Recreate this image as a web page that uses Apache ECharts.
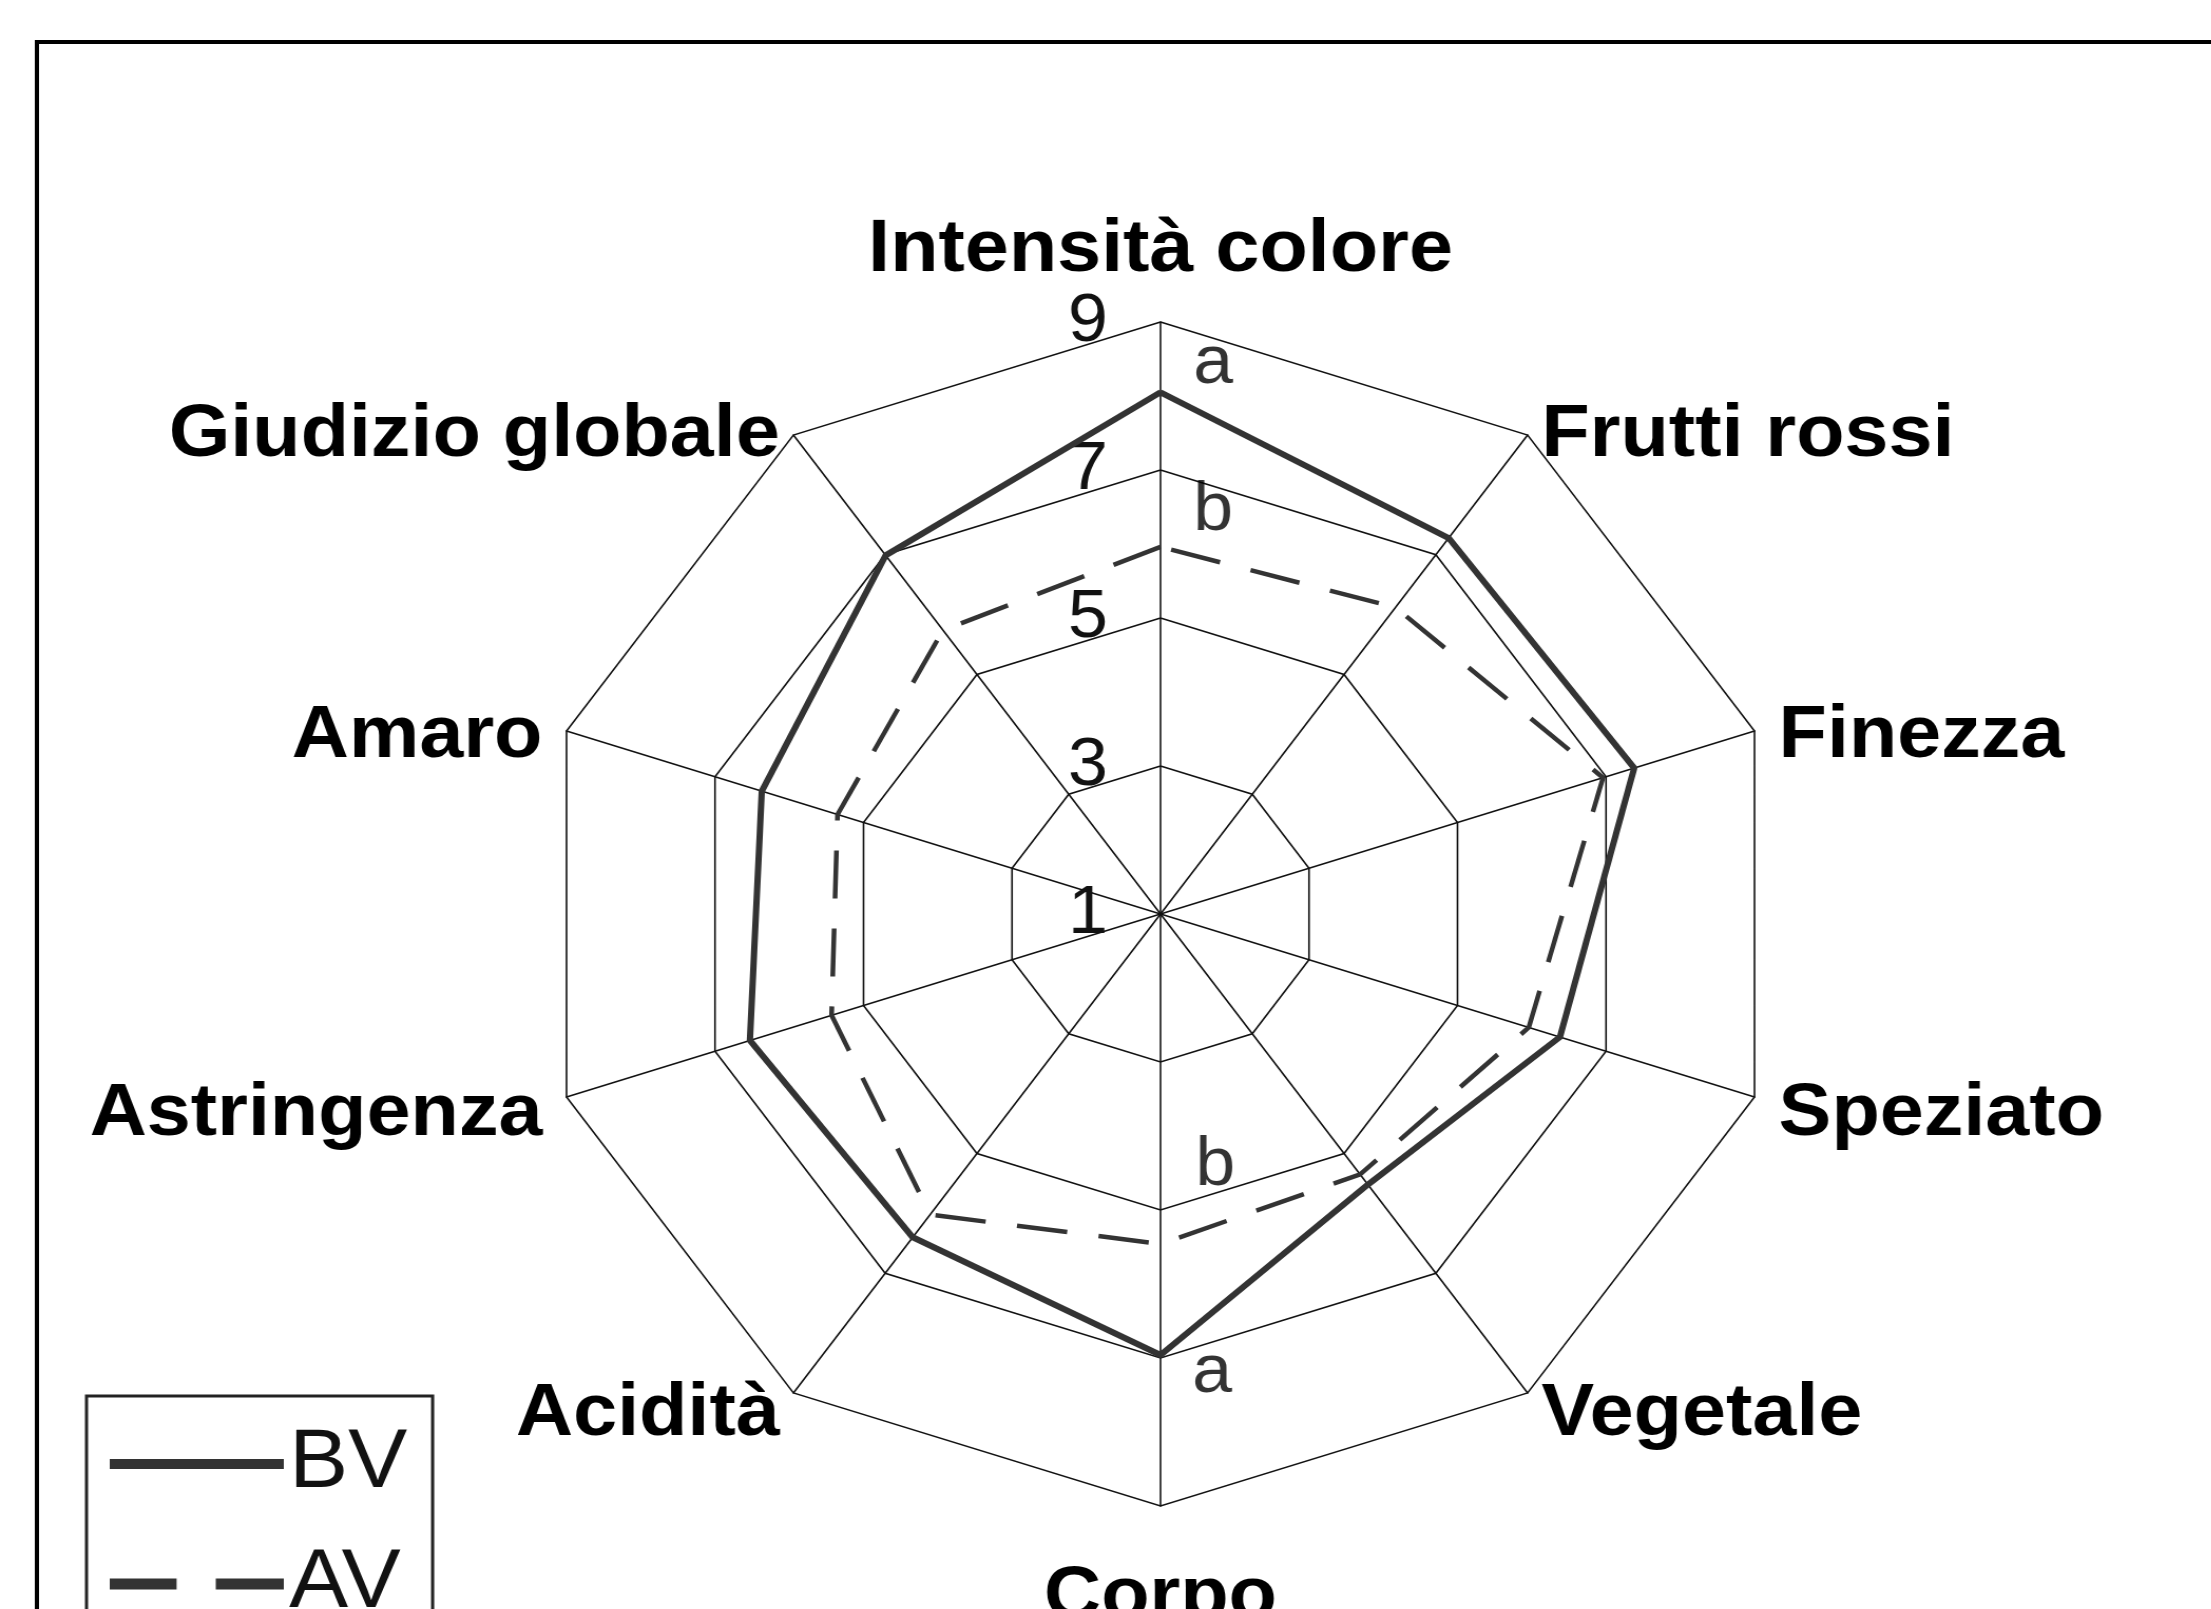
<!DOCTYPE html>
<html>
<head>
<meta charset="utf-8">
<title>Profilo sensoriale BV / AV</title>
<script src="https://cdn.jsdelivr.net/npm/echarts@6/dist/echarts.min.js"></script>
<style>
html, body { margin: 0; padding: 0; background: #fff; overflow: hidden; }
/* the original figure is stretched a little wider than tall */
#radar_chart { width: 2096px; height: 1609px; transform: scaleX(1.055); transform-origin: 0 0; }
</style>
</head>
<body>
<div id="radar_chart"></div>
<script>
// descriptors, clockwise from the top
var categories = ['Intensità colore', 'Frutti rossi', 'Finezza', 'Speziato', 'Vegetale',
                  'Corpo', 'Acidità', 'Astringenza', 'Amaro', 'Giudizio globale'];
var bvValues = [8.05, 7.28, 7.38, 6.38, 5.52, 6.96, 6.4, 6.53, 6.37, 6.99];
var avValues = [5.96, 6.12, 6.96, 5.96, 5.35, 5.46, 6.02, 5.43, 5.35, 5.74];
// significance letters (empty = none)
var bvLetters = ['a', '', '', '', '', 'a', '', '', '', ''];
var avLetters = ['b', '', '', '', '', 'b', '', '', '', ''];
var seriesNames = ['BV', 'AV'];
var scaleMin = 1;
var scaleMax = 9;

var FONT = 'Liberation Sans, Arial, Helvetica, sans-serif';
var CENTER = [1100, 914];
var RADIUS = 592;

var myChart = echarts.init(document.getElementById('radar_chart'));

// radar lays axes out counter-clockwise, the figure goes clockwise
function toRadarOrder(list) {
    var out = [list[0]];
    for (var i = list.length - 1; i > 0; i--) {
        out.push(list[i]);
    }
    return out;
}

// name gap and downward nudge of each axis name, same order as categories
var nameGaps = [34, 22, 24, 24, 22, 34, 22, 24, 24, 22];
var nameDrop = [0, 18, 13, 10, 4, 20, 4, 10, 13, 18];

function buildIndicators() {
    var list = [];
    for (var i = 0; i < categories.length; i++) {
        var ind = { name: categories[i], min: scaleMin, max: scaleMax };
        ind.nameGap = nameGaps[i];
        if (i == 5) {
            ind.nameTextStyle = { padding: [nameDrop[i], 0, 0, 0] };
        } else if (i != 0) {
            ind.nameTextStyle = { verticalAlign: 'top', lineHeight: nameDrop[i] * 2 };
        }
        if (i == 0) {
            ind.axisLabel = { show: true };
        }
        list.push(ind);
    }
    return toRadarOrder(list);
}

// label offsets for the letters
function letterOffset(s, k) {
    if (k == 0) return s == 0 ? [50, -28] : [50, -36];
    if (k == 5) return s == 0 ? [49, 18] : [52, -78];
    return [48, 0];
}

function buildLetters() {
    var sets = [[bvValues, bvLetters], [avValues, avLetters]];
    var step = 360 / categories.length;
    var data = [];
    for (var s = 0; s < sets.length; s++) {
        for (var k = 0; k < categories.length; k++) {
            var txt = sets[s][1][k];
            if (!txt) continue;
            data.push({
                name: txt,
                value: [sets[s][0][k], k * step],
                label: { offset: letterOffset(s, k) }
            });
        }
    }
    return data;
}

var option = {
    backgroundColor: '#fff',
    animation: false,
    graphic: [{
        type: 'rect',
        silent: true,
        shape: { x: 35, y: 42, width: 3000, height: 3000 },
        style: { fill: 'none', stroke: '#000', lineWidth: 4 }
    }],
    legend: {
        orient: 'vertical',
        left: 82,
        top: 1396,
        height: 300,
        padding: [26, 24, 80, 22],
        borderColor: '#222',
        borderWidth: 3,
        itemWidth: 165,
        itemHeight: 11,
        itemGap: 36,
        selectedMode: false,
        textStyle: { color: '#111', fontSize: 84, fontFamily: FONT },
        data: [
            { name: seriesNames[0], icon: 'path://M0,0L166,0L166,10L0,10Z' },
            { name: seriesNames[1], icon: 'path://M0,0L58,0L58,10L0,10Z M92,0L151,0L151,10L92,10Z' }
        ]
    },
    radar: {
        center: CENTER,
        radius: RADIUS,
        startAngle: 90,
        shape: 'polygon',
        splitNumber: 4,
        indicator: buildIndicators(),
        axisName: { color: '#000', fontSize: 75, fontWeight: 'bold', fontFamily: FONT },
        axisLine: { lineStyle: { color: '#111', width: 1.6 } },
        splitLine: { lineStyle: { color: '#111', width: 1.6 } },
        splitArea: { show: false },
        axisTick: { show: false },
        axisLabel: { show: false, color: '#111', fontSize: 68, fontFamily: FONT, margin: 50 }
    },
    polar: { center: CENTER, radius: RADIUS },
    angleAxis: { type: 'value', min: 0, max: 360, startAngle: 90, clockwise: true, show: false },
    radiusAxis: { type: 'value', min: scaleMin, max: scaleMax, show: false },
    series: [{
        type: 'radar',
        symbol: 'none',
        silent: true,
        data: [{
            name: seriesNames[0],
            value: toRadarOrder(bvValues),
            itemStyle: { color: '#333' },
            lineStyle: { color: '#333', width: 6 }
        }, {
            name: seriesNames[1],
            value: toRadarOrder(avValues),
            itemStyle: { color: '#333' },
            lineStyle: { color: '#333', width: 4.5, type: [48, 30] }
        }]
    }, {
        type: 'scatter',
        coordinateSystem: 'polar',
        silent: true,
        symbolSize: 0,
        label: {
            show: true,
            position: 'inside',
            formatter: '{b}',
            color: '#000',
            fontSize: 68,
            fontFamily: FONT
        },
        data: buildLetters()
    }]
};

myChart.setOption(option);
</script>
</body>
</html>
